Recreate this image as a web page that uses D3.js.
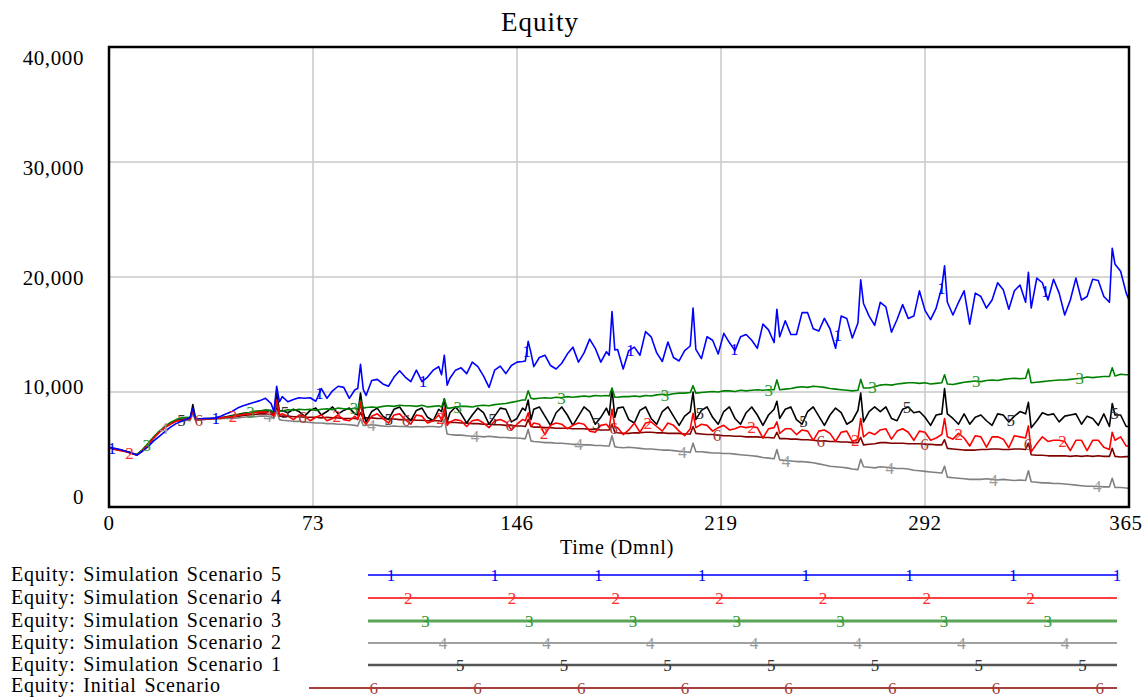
<!DOCTYPE html>
<html>
<head>
<meta charset="utf-8">
<script src="https://cdn.jsdelivr.net/npm/d3@7"></script>
<style>
  body { margin: 0; background: #fff; }
  text { font-family: "Liberation Serif", "Times New Roman", serif; }
</style>
</head>
<body>
<script>
"use strict";

// time axis (days), one row per month-ish block
var days = [
  0,2,4,6,8,10,12,14,16,18,20,22,24,26,28,
  29,30,31,32,34,36,38,40,42,44,46,48,50,52,54,56,58,
  59,60,61,62,64,66,68,70,72,74,76,78,80,82,84,86,88,
  89,90,91,92,94,96,98,100,102,104,106,108,110,112,114,116,118,
  119,120,121,122,124,126,128,130,132,134,136,138,140,142,144,146,148,
  149,150,151,152,154,156,158,160,162,164,166,168,170,172,174,176,178,
  179,180,181,182,184,186,188,190,192,194,196,198,200,202,204,206,208,
  209,210,212,214,216,218,220,222,224,226,228,230,232,234,236,238,
  239,240,242,244,246,248,250,252,254,256,258,260,262,264,266,268,
  269,270,272,274,276,278,280,282,284,286,288,290,292,294,296,298,
  299,300,302,304,306,308,310,312,314,316,318,320,322,324,326,328,
  329,330,332,334,336,338,340,342,344,346,348,350,352,354,356,358,
  359,360,362,364,365
];

var scenario5 = [
  5200,5100,5000,4850,4700,4520,4850,5250,5750,6150,6550,6950,7250,7450,7650,
  7800,8600,7650,7650,7700,7700,7750,7900,8100,8300,8600,8800,8950,9100,9250,9450,9000,
  8300,10500,9150,9600,9150,9350,9500,9450,9500,9200,10300,9450,10100,10500,10400,9450,10200,
  10300,12400,10200,9700,11000,11100,10700,10500,11300,11850,11300,10900,11900,10900,11300,11900,12200,
  11500,13200,10600,11200,11900,12100,11600,12600,12200,11400,10400,11900,12250,11600,12300,12600,12650,
  12700,14400,13400,12200,13000,13200,12300,12000,12500,13300,13900,12600,13400,14600,13800,12600,13500,
  13200,17000,13650,13700,12000,13600,13900,13200,15250,14800,13400,12650,14350,13000,12700,13600,14000,
  17300,13700,12900,14800,14500,13300,15100,14300,13600,14800,15000,14500,13800,15900,15400,14300,
  17200,14800,16200,15000,15000,16900,16900,15500,15300,16400,15500,13800,16600,16400,14700,16000,
  19750,17700,16600,15800,17800,17400,15200,16300,17600,16400,16600,18800,17100,16300,17300,19100,
  20970,17800,16700,17800,18800,15900,18600,18300,17300,18000,19500,18900,17200,18800,19300,17800,
  20400,17300,19900,19500,18000,19800,18600,16700,18000,19900,18000,18300,19800,19700,18300,17800,
  22500,21100,20500,18600,18000
];

var scenario4 = [
  5150,5000,4900,4800,4650,4500,4900,5450,6000,6500,6900,7200,7450,7550,7650,
  7650,8400,7600,7600,7650,7650,7700,7750,7800,7850,7950,8050,8100,8200,8250,8250,8200,
  7900,9300,8000,8100,7900,7600,8000,7900,7500,7800,8000,7500,7700,8000,7600,7500,7900,
  7600,9100,7500,7200,7900,8100,7700,7300,8000,8100,7600,7200,8000,7900,7300,7500,8000,
  7600,8600,7100,7400,7600,7500,7000,7500,7600,7300,6900,7500,7600,7400,6700,7200,7600,
  7500,8200,7000,7300,7200,6300,7100,7300,7200,6800,7100,7300,7200,6600,6500,7100,7200,
  6900,8500,7000,6900,6300,6700,7300,6500,7300,7400,7000,6600,7300,7100,6600,6200,6800,
  8150,6900,7200,7100,6600,6900,7100,6700,6800,7000,6900,7000,6900,6000,6800,6900,
  7400,6400,6800,6800,6300,6700,6600,5800,6600,6700,6400,5700,6500,6600,5700,5900,
  7700,6100,6500,6300,6700,6800,5900,6600,6800,6500,5800,6600,6500,5800,6000,6300,
  7700,6100,5900,6400,6000,5300,6200,6100,5200,6100,6100,5900,5150,6200,6100,6000,
  7050,4800,5500,6100,5700,5800,5800,5700,4900,5800,5800,4900,5800,5800,5200,5000,
  6500,5800,6100,5300,5300
];

var scenario3 = [
  5150,5050,4950,4850,4700,4550,5000,5550,6100,6600,7000,7350,7600,7750,7800,
  7750,8300,7700,7650,7650,7700,7700,7750,7800,7900,8000,8100,8200,8300,8350,8450,8400,
  8200,9000,8300,8350,8450,8400,8500,8450,8500,8400,8500,8550,8450,8600,8550,8500,8600,
  8500,9300,8600,8650,8700,8650,8750,8800,8750,8850,8800,8800,8750,8850,8700,8750,8800,
  8700,9400,8600,8600,8700,8750,8750,8700,8800,8850,8800,8900,8950,9000,9100,9200,9300,
  9300,10100,9450,9400,9450,9500,9450,9550,9500,9600,9550,9600,9650,9600,9700,9650,9700,
  9650,10350,9550,9550,9600,9600,9650,9600,9700,9650,9750,9800,9750,9850,9900,9900,9950,
  10550,9900,9950,10000,10050,10000,10100,10100,10050,10150,10100,10150,10200,10150,10200,10200,
  11050,10200,10250,10300,10400,10450,10400,10500,10450,10400,10300,10250,10200,10150,10100,10150,
  11100,10350,10350,10450,10600,10650,10600,10700,10750,10800,10800,10750,10800,10700,10750,10800,
  11500,10700,10650,10750,10850,10900,10950,10900,11000,11050,11000,11100,11150,11200,11150,11200,
  12000,10800,10850,10900,10950,11000,11050,11050,11100,11150,11200,11300,11250,11300,11350,11350,
  12100,11400,11550,11500,11500
];

var scenario2 = [
  5150,5050,4950,4850,4700,4550,4950,5500,6050,6550,6950,7250,7450,7500,7550,
  7500,8100,7500,7550,7600,7650,7650,7700,7700,7700,7750,7800,7850,7850,7900,7900,7850,
  7700,8300,7600,7550,7500,7450,7450,7400,7350,7300,7300,7250,7250,7200,7200,7150,7100,
  7050,7700,7100,7100,7150,7100,7050,7000,7050,7000,7000,6950,7000,6950,7000,7000,6950,
  7000,7650,6350,6300,6250,6250,6200,6150,6150,6100,6150,6100,6050,6050,6000,6000,5950,
  5950,6750,5750,5700,5650,5600,5600,5550,5550,5500,5450,5450,5400,5400,5350,5350,5300,
  5300,6200,5250,5200,5150,5200,5150,5100,5050,5050,5000,4950,4950,4900,4850,4800,4750,
  5550,4800,4800,4750,4700,4700,4650,4650,4600,4550,4500,4450,4400,4300,4250,4200,
  5000,4100,4050,4000,3950,3950,3900,3850,3750,3650,3550,3500,3450,3400,3300,3250,
  4150,3500,3450,3400,3500,3450,3400,3350,3350,3300,3200,3150,3100,3050,3000,2950,
  3550,2600,2550,2500,2450,2400,2400,2400,2450,2400,2350,2400,2350,2300,2350,2300,
  3150,2200,2150,2100,2100,2050,2050,2000,1950,1900,1850,1800,1800,1780,1750,1750,
  2500,1700,1700,1650,1620
];

var scenario1 = [
  5150,5050,4950,4850,4700,4550,4950,5450,6000,6500,6900,7250,7500,7600,7650,
  7600,8900,7650,7650,7700,7700,7700,7750,7850,7950,8050,8150,8200,8300,8350,8350,8300,
  8000,9900,8300,8400,8200,8500,8300,7900,8400,8600,8000,8300,8700,8100,8400,8600,8100,
  8000,9900,8200,7400,8300,8600,7900,7600,8500,8700,8000,7500,8400,8600,7800,7500,8500,
  8300,9400,7400,8200,8700,8100,7300,8000,8600,8200,7200,7900,8600,8500,7400,7700,8600,
  8400,9300,7600,8500,8700,7900,7100,8200,8700,8000,7100,7900,8700,8300,7200,7800,8600,
  8000,10300,7800,8600,8700,7600,7300,8400,8700,7700,7200,8300,8700,7900,7100,7900,8300,
  10000,7600,8400,8700,7800,7200,8300,8700,7700,7200,8200,8700,8000,7100,8000,8500,
  9200,7700,8500,8700,7600,7200,8300,8700,7900,7100,8000,8600,8200,7200,7500,8400,
  9900,7400,8300,8700,8300,8700,7700,7500,8500,8700,8200,8300,7800,7100,8000,8100,
  10300,8100,7700,7200,8100,7200,7800,8000,7500,7100,8100,8000,7400,7900,8300,8100,
  9100,6900,7500,8200,8000,8100,7400,7900,8000,8100,7200,7900,7700,7100,8100,7000,
  9000,8000,8000,7000,7000
];

var initialScenario = [
  5150,5050,4950,4850,4700,4550,4950,5500,6050,6550,6950,7300,7500,7600,7650,
  7600,8300,7600,7600,7650,7650,7700,7700,7750,7800,7850,7950,8000,8050,8100,8100,8050,
  7900,8700,7900,7900,7900,7850,7850,7800,7800,7800,7750,7800,7750,7750,7700,7700,7700,
  7650,8200,7700,7750,7750,7700,7700,7650,7650,7600,7600,7600,7550,7550,7500,7500,7500,
  7450,8100,7400,7350,7350,7300,7300,7250,7250,7200,7200,7150,7150,7100,7100,7050,7050,
  7000,7600,7000,6950,6950,6900,6900,6850,6850,6850,6800,6800,6800,6750,6750,6700,6700,
  6700,7200,6500,6450,6400,6400,6450,6450,6500,6500,6450,6450,6400,6400,6400,6350,6350,
  7000,6400,6350,6300,6300,6250,6200,6200,6150,6150,6100,6100,6100,6050,6050,6000,
  6500,5950,5950,5900,5900,5850,5850,5800,5750,5750,5700,5700,5650,5650,5600,5600,
  6050,5400,5450,5500,5600,5600,5550,5550,5550,5500,5500,5500,5450,5450,5400,5400,
  5850,5100,5050,5000,4950,4950,4950,5000,5000,5050,5050,5000,5000,5050,5050,5000,
  5550,4550,4500,4500,4450,4450,4450,4450,4400,4450,4400,4450,4400,4450,4400,4400,
  5100,4400,4350,4380,4380
];

var seriesNames = ["Equity: Simulation Scenario 5", "Equity: Simulation Scenario 4",
  "Equity: Simulation Scenario 3", "Equity: Simulation Scenario 2",
  "Equity: Simulation Scenario 1", "Equity: Initial Scenario"];
var xTicks = [0, 73, 146, 219, 292, 365];
var yTicks = [0, 10000, 20000, 30000, 40000];

function init() {
  var w = 1144;
  var h = 697;

  var allSeries = [scenario5, scenario4, scenario3, scenario2, scenario1, initialScenario];
  allSeries.forEach(function (s, i) {
    if (s.length !== days.length) {
      throw new Error("series " + i + " has " + s.length + " values, days has " + days.length);
    }
  });

  var lineColors = ["#0000ff", "#ff0000", "#008000", "#808080", "#000000", "#800000"];
  var markColors = ["#0000ff", "#ff2a2a", "#2e9b2e", "#9a9a9a", "#333333", "#a33a3a"];
  var legendColors = ["#3c3cff", "#ff0000", "#5aa55a", "#808080", "#555555", "#8b0000"];
  var legendWidths = [2, 1.5, 3, 1.5, 2.5, 1.5];

  var left = 109, right = 1129, top = 47, bottom = 507;

  var xScale = d3.scaleLinear().domain([0, 365]).range([left, right]);
  var yScale = d3.scaleLinear().domain([0, 40000]).range([bottom, top]);
  // vensim spreads the value labels a little tighter than the grid
  var yLabelScale = d3.scaleLinear().domain([0, 40000]).range([497, 58]);

  var svg = d3.select("body")
    .append("svg")
    .attr("width", w)
    .attr("height", h);

  svg.append("text")
    .attr("x", 540)
    .attr("y", 22)
    .attr("dominant-baseline", "central")
    .attr("text-anchor", "middle")
    .attr("font-size", "27px")
    .attr("letter-spacing", "1px")
    .text("Equity");

  // grid
  svg.selectAll("line.vgrid")
    .data(xTicks.slice(1, -1))
    .enter()
    .append("line")
    .attr("class", "vgrid")
    .attr("x1", function (d) { return xScale(d); })
    .attr("x2", function (d) { return xScale(d); })
    .attr("y1", top)
    .attr("y2", bottom)
    .attr("stroke", "#c8c8c8")
    .attr("stroke-width", 1.5);

  svg.selectAll("line.hgrid")
    .data(yTicks.slice(1, -1))
    .enter()
    .append("line")
    .attr("class", "hgrid")
    .attr("x1", left)
    .attr("x2", right)
    .attr("y1", function (d) { return yScale(d); })
    .attr("y2", function (d) { return yScale(d); })
    .attr("stroke", "#c8c8c8")
    .attr("stroke-width", 1.5);

  // lines, drawn so that scenario 5 ends up on top
  var line = d3.line()
    .x(function (d, i) { return xScale(days[i]); })
    .y(function (d) { return yScale(d); });

  var order = [5, 4, 3, 2, 1, 0];
  order.forEach(function (k) {
    svg.append("path")
      .datum(allSeries[k])
      .attr("fill", "none")
      .attr("stroke", lineColors[k])
      .attr("stroke-width", 1.6)
      .attr("stroke-linejoin", "round")
      .attr("d", line);
  });

  // numbered markers along each line
  var bisect = d3.bisector(function (d) { return d; }).left;
  function valueAt(series, day) {
    var j = bisect(days, day);
    if (j <= 0) return series[0];
    if (j >= days.length) return series[days.length - 1];
    var t = (day - days[j - 1]) / (days[j] - days[j - 1]);
    return series[j - 1] + t * (series[j] - series[j - 1]);
  }

  var period = 37.1;
  order.forEach(function (k) {
    var marks = [];
    for (var day = 1.1 + k * 6.2; day <= 365; day += period) {
      marks.push(day);
    }
    svg.selectAll("text.mark" + k)
      .data(marks)
      .enter()
      .append("text")
      .attr("class", "mark" + k)
      .attr("x", function (d) { return xScale(d); })
      .attr("y", function (d) { return yScale(valueAt(allSeries[k], d)) + 6; })
      .attr("text-anchor", "middle")
      .attr("font-size", "17px")
      .attr("fill", markColors[k])
      .text(k + 1);
  });

  // frame
  svg.append("rect")
    .attr("x", left)
    .attr("y", top)
    .attr("width", right - left)
    .attr("height", bottom - top)
    .attr("fill", "none")
    .attr("stroke", "#000")
    .attr("stroke-width", 2.5);

  // axis labels
  svg.selectAll("text.ylab")
    .data(yTicks)
    .enter()
    .append("text")
    .attr("class", "ylab")
    .attr("x", 84)
    .attr("y", function (d) { return yLabelScale(d); })
    .attr("dominant-baseline", "central")
    .attr("text-anchor", "end")
    .attr("font-size", "21px")
    .attr("letter-spacing", "0.6px")
    .text(function (d) { return d3.format(",")(d); });

  svg.selectAll("text.xlab")
    .data(xTicks)
    .enter()
    .append("text")
    .attr("class", "xlab")
    .attr("x", function (d) { return xScale(d) - (d === 365 ? 3 : 0); })
    .attr("y", 523)
    .attr("dominant-baseline", "central")
    .attr("text-anchor", "middle")
    .attr("font-size", "21px")
    .attr("letter-spacing", "0.6px")
    .text(function (d) { return d; });

  svg.append("text")
    .attr("x", 617)
    .attr("y", 547)
    .attr("dominant-baseline", "central")
    .attr("text-anchor", "middle")
    .attr("font-size", "20px")
    .attr("letter-spacing", "0.8px")
    .text("Time (Dmnl)");

  // legend
  var rowY = [575, 598, 621, 643, 665, 688];
  var textY = [574, 597, 620, 642, 664, 685];
  var rowStart = [368, 368, 368, 368, 368, 309];
  var legendEnd = 1117;

  seriesNames.forEach(function (name, k) {
    svg.append("text")
      .attr("x", 11)
      .attr("y", textY[k])
      .attr("dominant-baseline", "central")
      .attr("font-size", "20px")
      .attr("letter-spacing", "0.8px")
      .attr("word-spacing", "2px")
      .text(name);

    svg.append("line")
      .attr("x1", rowStart[k])
      .attr("x2", legendEnd)
      .attr("y1", rowY[k])
      .attr("y2", rowY[k])
      .attr("stroke", legendColors[k])
      .attr("stroke-width", legendWidths[k]);

    var marks = [];
    var first = 391 + k * 17.3;
    while (first - 103.7 >= rowStart[k]) first -= 103.7;
    for (var mx = first; mx <= legendEnd + 1; mx += 103.7) marks.push(mx);

    svg.selectAll("text.lmark" + k)
      .data(marks)
      .enter()
      .append("text")
      .attr("class", "lmark" + k)
      .attr("x", function (d) { return d; })
      .attr("y", rowY[k] + 6)
      .attr("text-anchor", "middle")
      .attr("font-size", "17px")
      .attr("fill", markColors[k])
      .text(k + 1);
  });
}

window.onload = init;
</script>
</body>
</html>
